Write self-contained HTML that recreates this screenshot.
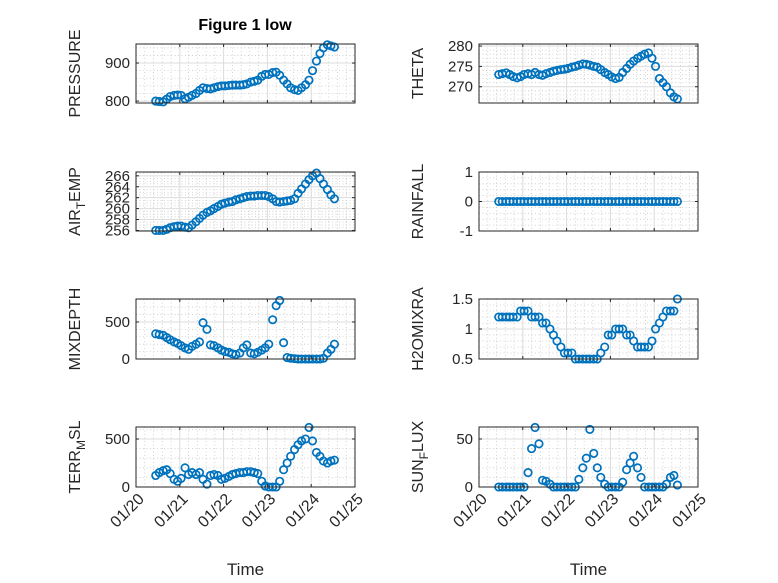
<!DOCTYPE html>
<html><head><meta charset="utf-8">
<style>
html,body{margin:0;padding:0;background:#fff;}
svg{display:block;font-family:"Liberation Sans",sans-serif;}
</style></head>
<body>
<svg id="fig" width="778" height="583" viewBox="0 0 778 583">
<text x="245" y="30" text-anchor="middle" font-size="16" font-weight="bold" fill="#000">Figure 1 low</text>
</svg>
<script>
const timeDays = [0.45,0.53,0.62,0.70,0.78,0.87,0.95,1.03,1.12,1.20,1.28,1.37,1.45,1.53,1.62,1.70,1.78,1.87,1.95,2.03,2.12,2.20,2.28,2.37,2.45,2.53,2.62,2.70,2.78,2.87,2.95,3.03,3.12,3.20,3.28,3.37,3.45,3.53,3.62,3.70,3.78,3.87,3.95,4.03,4.12,4.20,4.28,4.37,4.45,4.53];
const xTickLabels = ["01/20","01/21","01/22","01/23","01/24","01/25"];
const pressure = [800,799,798,805,812,815,816,815,806,810,815,820,828,835,833,832,835,838,840,840,841,842,842,842,843,845,850,852,855,865,870,870,875,876,868,855,845,835,830,828,835,843,855,880,905,925,940,948,945,942];
const theta = [273,273.2,273.4,273,272.5,272.2,272.5,273,273.2,273,273.5,273,272.8,273.2,273.5,273.8,274,274.2,274.3,274.5,274.8,275,275.3,275.6,275.5,275.3,275,274.8,274.2,273.5,273,272.4,272,272.3,273.5,274.5,275.5,276.3,277,277.5,278,278.3,277,275,272,271,270,268.5,267.5,267];
const airTemp = [256,256,256,256.2,256.5,256.7,256.8,256.8,256.6,256.5,257,257.6,258.2,258.8,259.3,259.6,260,260.4,260.8,261,261.2,261.3,261.6,261.8,262,262.2,262.3,262.3,262.4,262.4,262.4,262.2,261.8,261.3,261.2,261.3,261.4,261.5,261.8,262.8,263.6,264.5,265.3,266,266.5,265.5,264.5,263.5,262.5,261.8];
const rainfall = [0,0,0,0,0,0,0,0,0,0,0,0,0,0,0,0,0,0,0,0,0,0,0,0,0,0,0,0,0,0,0,0,0,0,0,0,0,0,0,0,0,0,0,0,0,0,0,0,0,0];
const mixDepth = [340,330,320,290,260,230,210,180,150,130,170,200,230,490,400,190,180,150,120,100,90,70,60,80,150,190,80,70,90,120,150,200,530,720,790,220,20,10,5,0,0,0,0,0,0,0,10,80,130,200];
const h2oMixRatio = [1.2,1.2,1.2,1.2,1.2,1.2,1.3,1.3,1.3,1.2,1.2,1.2,1.1,1.1,1.0,0.9,0.8,0.7,0.6,0.6,0.6,0.5,0.5,0.5,0.5,0.5,0.5,0.5,0.6,0.7,0.9,0.9,1.0,1.0,1.0,0.9,0.9,0.8,0.7,0.7,0.7,0.7,0.8,1.0,1.1,1.2,1.3,1.3,1.3,1.5];
const terrMsl = [120,150,170,180,140,80,60,90,200,130,150,130,150,80,30,120,130,120,80,90,110,130,140,150,150,160,160,150,140,60,10,0,0,0,60,180,250,320,390,440,480,500,620,480,360,320,270,250,270,280];
const sunFlux = [0,0,0,0,0,0,0,0,15,40,62,45,7,6,3,0,0,0,0,0,0,0,8,20,30,60,35,20,10,3,0,0,0,0,5,18,25,32,20,10,0,0,0,0,0,0,3,10,12,2];

const panelDefs = [
 {name:'pressure', label:['PRESSURE'], data:pressure, lim:[795,950], ticks:[800,900], labels:['800','900'], minor:20, col:0,row:0},
 {name:'theta', label:['THETA'], data:theta, lim:[266,280.5], ticks:[270,275,280], labels:['270','275','280'], minor:1, col:1,row:0},
 {name:'air-temp', label:['AIR','T','EMP'], data:airTemp, lim:[255.9,266.7], ticks:[256,258,260,262,264,266], labels:['256','258','260','262','264','266'], minor:0.5, col:0,row:1},
 {name:'rainfall', label:['RAINFALL'], data:rainfall, lim:[-1,1], ticks:[-1,0,1], labels:['-1','0','1'], minor:0.2, col:1,row:1},
 {name:'mixdepth', label:['MIXDEPTH'], data:mixDepth, lim:[0,810], ticks:[0,500], labels:['0','500'], minor:100, col:0,row:2},
 {name:'h2omixra', label:['H2OMIXRA'], data:h2oMixRatio, lim:[0.5,1.5], ticks:[0.5,1,1.5], labels:['0.5','1','1.5'], minor:0.1, col:1,row:2},
 {name:'terr-msl', label:['TERR','M','SL'], data:terrMsl, lim:[0,625], ticks:[0,500], labels:['0','500'], minor:100, col:0,row:3},
 {name:'sun-flux', label:['SUN','F','LUX'], data:sunFlux, lim:[0,62.5], ticks:[0,50], labels:['0','50'], minor:10, col:1,row:3}
];
const colX = [[136,355],[479,698]];
const rowY = [[44,103],[172,231],[299,359],[427,487]];
const NS='http://www.w3.org/2000/svg';
const svg=document.getElementById('fig');
function mk(tag,attrs,parent){const e=document.createElementNS(NS,tag);for(const k in attrs)e.setAttribute(k,attrs[k]);(parent||svg).appendChild(e);return e;}

panelDefs.forEach(p=>{
 const [x0,x1]=colX[p.col]; const [y0,y1]=rowY[p.row];
 const xs=d=>x0+(d/5)*(x1-x0);
 const ys=v=>y1-(v-p.lim[0])/(p.lim[1]-p.lim[0])*(y1-y0);
 const g=mk('g',{});
 
 
 mk('rect',{x:x0,y:y0,width:x1-x0,height:y1-y0,fill:'#fff'},g);
 for(let d=0.2;d<5;d+=0.2){ if(Math.abs(d-Math.round(d))<1e-6)continue;
   mk('line',{x1:xs(d),x2:xs(d),y1:y0,y2:y1,stroke:'#c8c8c8','stroke-width':0.8,'stroke-dasharray':'1,2.5'},g);}
 const start=Math.ceil(p.lim[0]/p.minor-1e-9)*p.minor;
 for(let v=start;v<=p.lim[1]+1e-9;v+=p.minor){
   if(p.ticks.some(t=>Math.abs(t-v)<1e-6))continue;
   mk('line',{x1:x0,x2:x1,y1:ys(v),y2:ys(v),stroke:'#c8c8c8','stroke-width':0.8,'stroke-dasharray':'1,2.5'},g);}
 for(let d=1;d<5;d++) mk('line',{x1:xs(d),x2:xs(d),y1:y0,y2:y1,stroke:'#dcdcdc','stroke-width':1},g);
 p.ticks.forEach(t=>mk('line',{x1:x0,x2:x1,y1:ys(t),y2:ys(t),stroke:'#dcdcdc','stroke-width':1},g));
 p.data.forEach((v,i)=>{
   const c=mk('circle',{cx:xs(timeDays[i]),cy:ys(v),r:3.7,fill:'none',stroke:'#0072BD','stroke-width':1.7},g);
   
   
 });
 mk('rect',{x:x0,y:y0,width:x1-x0,height:y1-y0,fill:'none',stroke:'#262626','stroke-width':1},g);
 for(let d=0;d<=5;d++){
   mk('line',{x1:xs(d),x2:xs(d),y1:y1,y2:y1-3,stroke:'#262626'},g);
   mk('line',{x1:xs(d),x2:xs(d),y1:y0,y2:y0+3,stroke:'#262626'},g);
 }
 p.ticks.forEach((t,i)=>{
   mk('line',{x1:x0,x2:x0+3,y1:ys(t),y2:ys(t),stroke:'#262626'},g);
   mk('line',{x1:x1,x2:x1-3,y1:ys(t),y2:ys(t),stroke:'#262626'},g);
   const tx=mk('text',{x:x0-6,y:ys(t)+5,'text-anchor':'end','font-size':15,fill:'#262626'},g);
   tx.textContent=p.labels[i];
   
   
 });
 const cx=x0-56, cy=(y0+y1)/2;
 const yl=mk('text',{x:cx,y:cy,'text-anchor':'middle','font-size':16,fill:'#262626',transform:`rotate(-90 ${cx} ${cy})`},g);
 
 
 if(p.label.length===1){yl.textContent=p.label[0];}
 else{
   const a=mk('tspan',{},yl);a.textContent=p.label[0];
   const b=mk('tspan',{dy:5,'font-size':12},yl);b.textContent=p.label[1];
   const c=mk('tspan',{dy:-5},yl);c.textContent=p.label[2];
 }
 if(p.row===3){
   xTickLabels.forEach((lab,d)=>{
     const tx0=xs(d)+9, ty0=y1+13;
     const t=mk('text',{x:tx0,y:ty0,'text-anchor':'end','font-size':16,fill:'#262626',transform:`rotate(-45 ${tx0} ${ty0})`},g);
     t.textContent=lab;
     
     
   });
   const xt=mk('text',{x:(x0+x1)/2,y:575,'text-anchor':'middle','font-size':17,fill:'#262626'},g);
   xt.textContent='Time';
   
   
 }
});
</script>
</body></html>
